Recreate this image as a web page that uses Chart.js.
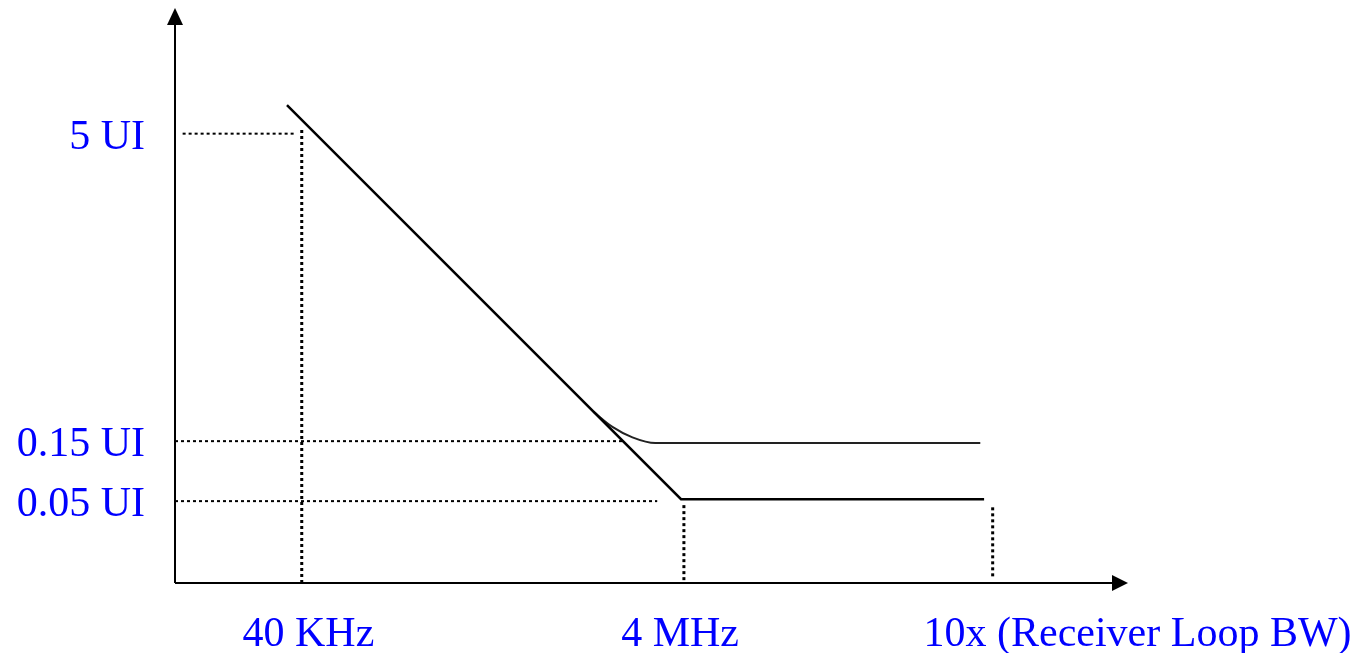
<!DOCTYPE html>
<html>
<head>
<meta charset="utf-8">
<script src="https://cdn.jsdelivr.net/npm/chart.js@4"></script>
<style>
  html, body { margin: 0; padding: 0; background: #fff; }
  #wrap { width: 1360px; height: 653px; }
</style>
</head>
<body>
<div id="wrap"><canvas id="chart"></canvas></div>
<script>
// schematic units: x 0..100, y 0..60
const maskLowX = [11.75, 53.1, 84.9];
const maskLowY = [50.2, 8.8, 8.8];
const maskHighX = [43.9, 45.9, 48.0, 50.4, 84.5];
const maskHighY = [18.0, 16.4, 15.3, 14.7, 14.7];

const guideH = [
  { y: 47.2, from: 0.8, to: 12.7 },
  { y: 14.9, from: 0, to: 47.0 },
  { y: 8.6, from: 0, to: 50.6 }
];
const guideV = [
  { x: 13.3, from: 0, to: 47.6 },
  { x: 53.4, from: 0.3, to: 8.2 },
  { x: 85.8, from: 0.7, to: 8.1 }
];

const yLabels = ["5 UI", "0.15 UI", "0.05 UI"];
const yLabelVals = [47.2, 14.9, 8.6];
const xLabels = ["40 KHz", "4 MHz", "10x (Receiver Loop BW)"];
const xLabelVals = [14.0, 53.0, 101.0];

function pts(xs, ys) {
  return xs.map((x, i) => ({ x: x, y: ys[i] }));
}

const datasets = [];
guideH.forEach(g => {
  datasets.push({
    label: "guide",
    data: [{ x: g.from, y: g.y }, { x: g.to, y: g.y }],
    borderColor: "#000",
    borderWidth: 2,
    borderDash: [3, 3]
  });
});
guideV.forEach(g => {
  datasets.push({
    label: "guide",
    data: [{ x: g.x, y: g.from }, { x: g.x, y: g.to }],
    borderColor: "#000",
    borderWidth: 3,
    borderDash: [3, 3]
  });
});
datasets.push({
  label: "mask low",
  data: pts(maskLowX, maskLowY),
  borderColor: "#000",
  borderWidth: 2.5
});
datasets.push({
  label: "mask high",
  data: pts(maskHighX, maskHighY),
  borderColor: "#222",
  borderWidth: 2,
  cubicInterpolationMode: "monotone"
});

// axes with arrow heads + blue labels
const decor = {
  id: "decor",
  afterDatasetsDraw(chart) {
    const ctx = chart.ctx;
    const a = chart.chartArea;
    const xs = chart.scales.x, ys = chart.scales.y;
    const ox = a.left, oy = a.bottom;
    ctx.save();
    ctx.strokeStyle = "#000";
    ctx.fillStyle = "#000";
    ctx.lineWidth = 2;
    ctx.beginPath();
    ctx.moveTo(ox, oy);
    ctx.lineTo(ox, a.top + 14);
    ctx.moveTo(ox, oy);
    ctx.lineTo(a.right - 14, oy);
    ctx.stroke();
    ctx.beginPath();
    ctx.moveTo(ox, a.top);
    ctx.lineTo(ox - 8, a.top + 17);
    ctx.lineTo(ox + 8, a.top + 17);
    ctx.closePath();
    ctx.fill();
    ctx.beginPath();
    ctx.moveTo(a.right, oy);
    ctx.lineTo(a.right - 16, oy - 8);
    ctx.lineTo(a.right - 16, oy + 8);
    ctx.closePath();
    ctx.fill();

    ctx.fillStyle = "#0000ff";
    ctx.font = "42px 'Liberation Serif', 'Times New Roman', serif";
    ctx.textBaseline = "middle";
    ctx.textAlign = "right";
    yLabels.forEach((t, i) => {
      ctx.fillText(t, ox - 30, ys.getPixelForValue(yLabelVals[i]) + 4);
    });
    ctx.textAlign = "center";
    xLabels.forEach((t, i) => {
      ctx.fillText(t, xs.getPixelForValue(xLabelVals[i]), oy + 52);
    });
    ctx.restore();
  }
};

new Chart(document.getElementById("chart"), {
  type: "scatter",
  data: { datasets },
  options: {
    responsive: true,
    maintainAspectRatio: false,
    animation: false,
    showLine: true,
    elements: { point: { radius: 0, hoverRadius: 0 }, line: { fill: false } },
    layout: { padding: { left: 175, right: 232, top: 8, bottom: 70 } },
    plugins: { legend: { display: false }, tooltip: { enabled: false } },
    scales: {
      x: { type: "linear", min: 0, max: 100, display: false },
      y: { type: "linear", min: 0, max: 60.4, display: false }
    }
  },
  plugins: [decor]
});
</script>
</body>
</html>
